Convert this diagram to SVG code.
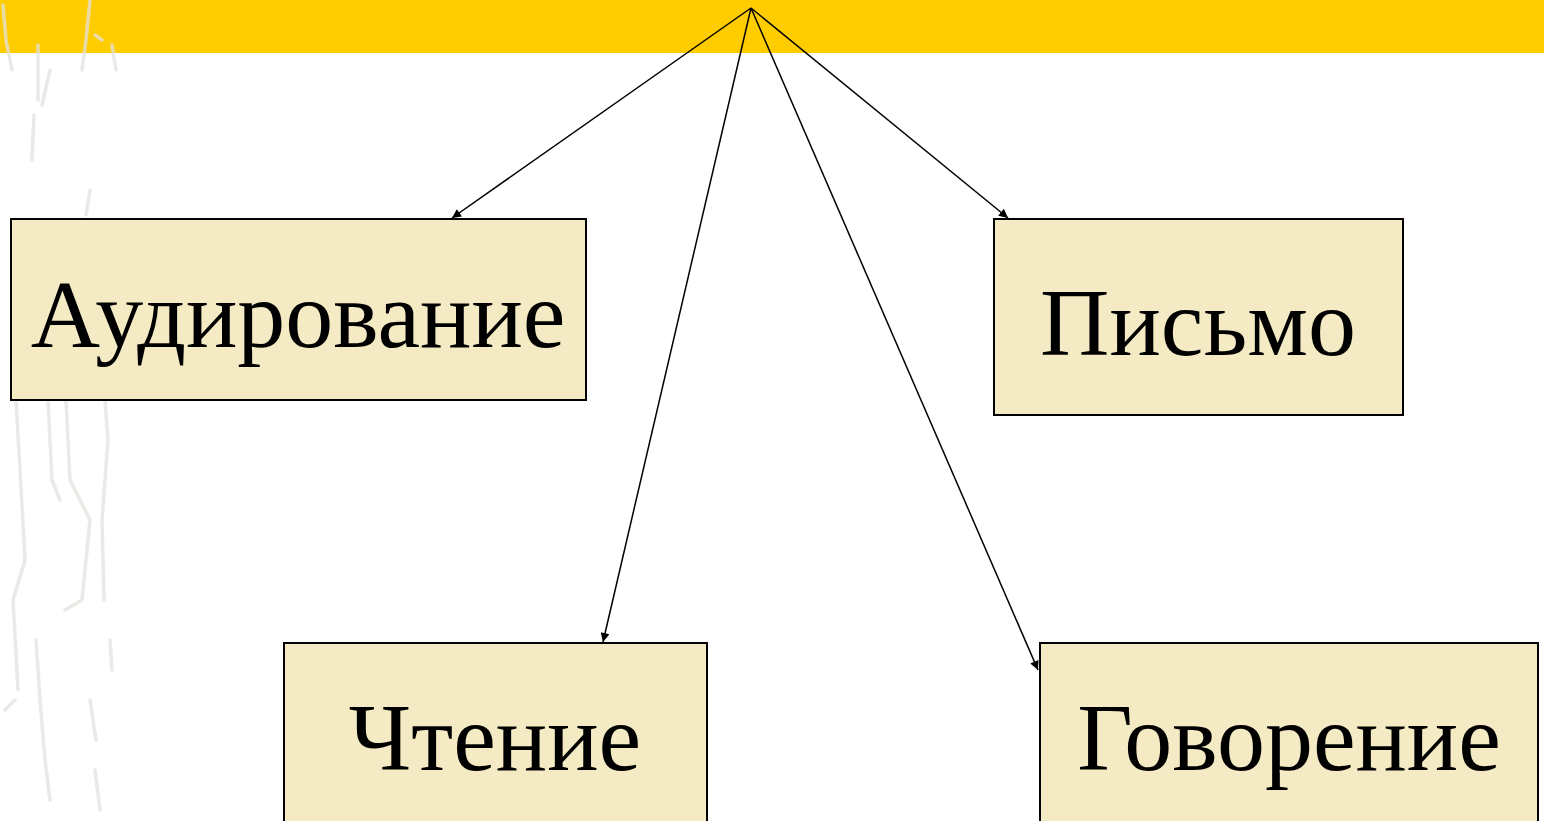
<svg xmlns="http://www.w3.org/2000/svg" width="1544" height="821" viewBox="0 0 1544 821">
<style>
.box{fill:#F4EAC3;stroke:#000;stroke-width:2}
.lbl{font-family:"Liberation Serif","Times New Roman",serif;font-size:96px;fill:#000;text-anchor:middle}
.conn{stroke:#000;stroke-width:1.5;fill:none;marker-end:url(#ah)}
.deco{stroke:#E2E2DE;stroke-width:3.5;fill:none;stroke-linecap:round;opacity:0.75}
</style>
<defs>
<marker id="ah" viewBox="0 0 10 10" refX="10" refY="5" markerWidth="12" markerHeight="9" markerUnits="userSpaceOnUse" orient="auto">
<path d="M0,0 L10,5 L0,10 z" fill="#000"/>
</marker>
</defs>
<rect width="1544" height="821" fill="#fff"/>
<rect x="0" y="0" width="1544" height="53" fill="#FFCC00"/>
<g id="decoration">
<path class="deco" d="M3,5 L6,40 L12,70 M38,45 L38,100 M50,70 L42,105 M34,115 L32,160 M90,0 L86,40 L82,70 M95,35 L102,40 M112,45 L116,70 M90,190 L86,215"/>
<path class="deco" d="M16,400 L20,470 L25,560 L13,600 L18,690 M48,400 L52,480 L60,500 M66,400 L70,480 L90,520 L82,600 L65,610 M105,400 L108,440 L102,520 L104,600 M36,640 L40,700 L45,760 L50,800 M90,700 L96,740 M110,640 L112,670 M5,710 L15,700 M95,770 L100,810"/>
</g>
<g id="connectors">
<line class="conn" x1="751" y1="8" x2="452" y2="218"/>
<line class="conn" x1="751" y1="8" x2="1008" y2="218"/>
<line class="conn" x1="751" y1="8" x2="603" y2="642"/>
<line class="conn" x1="751" y1="8" x2="1038" y2="670"/>
</g>
<g id="n-audirovanie">
<rect class="box" x="11" y="219" width="575" height="181"/>
<text class="lbl" x="298" y="347">Аудирование</text>
</g>
<g id="n-pismo">
<rect class="box" x="994" y="219" width="409" height="196"/>
<text class="lbl" x="1198" y="355">Письмо</text>
</g>
<g id="n-chtenie">
<rect class="box" x="284" y="643" width="423" height="190"/>
<text class="lbl" x="495" y="770">Чтение</text>
</g>
<g id="n-govorenie">
<rect class="box" x="1040" y="643" width="498" height="190"/>
<text class="lbl" x="1289" y="770">Говорение</text>
</g>
</svg>
